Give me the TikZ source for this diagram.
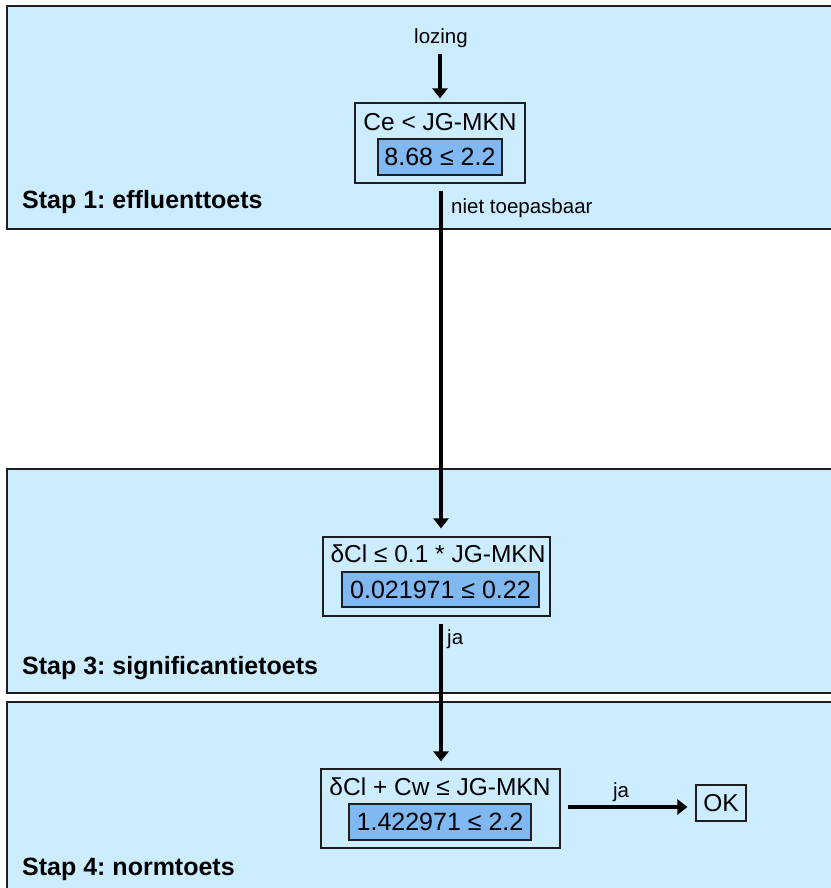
\documentclass[tikz,border=0pt]{standalone}
\usepackage{fontspec}
\setmainfont{Liberation Sans}
\usetikzlibrary{arrows.meta}
\definecolor{panelblue}{RGB}{204,236,255}
\definecolor{valueblue}{RGB}{128,184,242}
\definecolor{edgegray}{RGB}{30,30,30}
\frenchspacing
\begin{document}
\begin{tikzpicture}[x=1pt,y=-1pt,
  panel/.style={fill=panelblue,draw=edgegray,line width=1.6pt},
  stagelabel/.style={anchor=west,inner sep=0pt,font=\fontsize{25}{27}\selectfont\bfseries},
  condbox/.style={draw=edgegray,line width=1.2pt,fill=panelblue,inner sep=0pt},
  valbox/.style={draw=edgegray,line width=1.2pt,fill=valueblue,inner sep=0pt,
    font=\fontsize{25}{27}\selectfont},
  condtext/.style={inner sep=0pt,font=\fontsize{24.5}{27}\selectfont},
  smalltext/.style={inner sep=0pt,font=\fontsize{20.5}{23}\selectfont},
  flow/.style={line width=4.3pt,-{Triangle[length=10pt,width=15pt]}},
]
\useasboundingbox (0,0) rectangle (830,888);
\fill[white] (0,0) rectangle (830,888);

% stage panels
\draw[panel] (7,6) rectangle (845,229);
\draw[panel] (7,469) rectangle (845,693);
\draw[panel] (7,702) rectangle (845,900);

\node[stagelabel] (s1) at (22,202) {Stap 1: effluenttoets};
\node[stagelabel] (s3) at (22,668) {Stap 3: significantietoets};
\node[stagelabel] (s4) at (22,869) {Stap 4: normtoets};

% step 1
\node[smalltext] (lozing) at (441,38) {lozing};
\node[condbox,minimum width=170pt,minimum height=80pt] (b1) at (440,143) {};
\node[condtext] (b1t) at (440,122) {Ce < JG-MKN};
\node[valbox,minimum width=124pt,minimum height=36pt] (v1) at (440,157) {8.68 ≤ 2.2};

% step 3
\node[condbox,minimum width=227pt,minimum height=79pt] (b3) at (436.5,576.5) {};
\node[condtext] (b3t) at (438,554) {δCl ≤ 0.1 * JG-MKN};
\node[valbox,minimum width=197pt,minimum height=35pt] (v3) at (440.5,589.5) {0.021971 ≤ 0.22};

% step 4
\node[condbox,minimum width=239pt,minimum height=79pt] (b4) at (440.5,808.5) {};
\node[condtext] (b4t) at (440,787) {δCl + Cw ≤ JG-MKN};
\node[valbox,minimum width=182pt,minimum height=36pt] (v4) at (440,822) {1.422971 ≤ 2.2};
\node[draw=edgegray,line width=1.2pt,minimum width=50pt,minimum height=36pt,inner sep=0pt,
  font=\fontsize{24.5}{27}\selectfont] (ok) at (721,803) {OK};

% connectors
\draw[flow,shorten <=6pt,shorten >=4pt] (lozing.south -| b1.north) -- (b1.north);
\draw[flow,shorten <=7pt,shorten >=8pt] (b1.south -| 441,0) -- (b3.north -| 441,0);
\draw[flow,shorten <=7pt,shorten >=7pt] (b3.south -| 441,0) -- (b4.north -| 441,0);
\draw[flow,shorten <=7pt,shorten >=8pt] (b4.east |- 0,807) -- (ok.west |- 0,807);

% connector labels
\node[smalltext,anchor=west] (lbl1) at (451,208) {niet toepasbaar};
\node[smalltext,anchor=west] (lbl3) at (447,639) {ja};
\node[smalltext] (lbl4) at (621,792) {ja};
\end{tikzpicture}
\end{document}
